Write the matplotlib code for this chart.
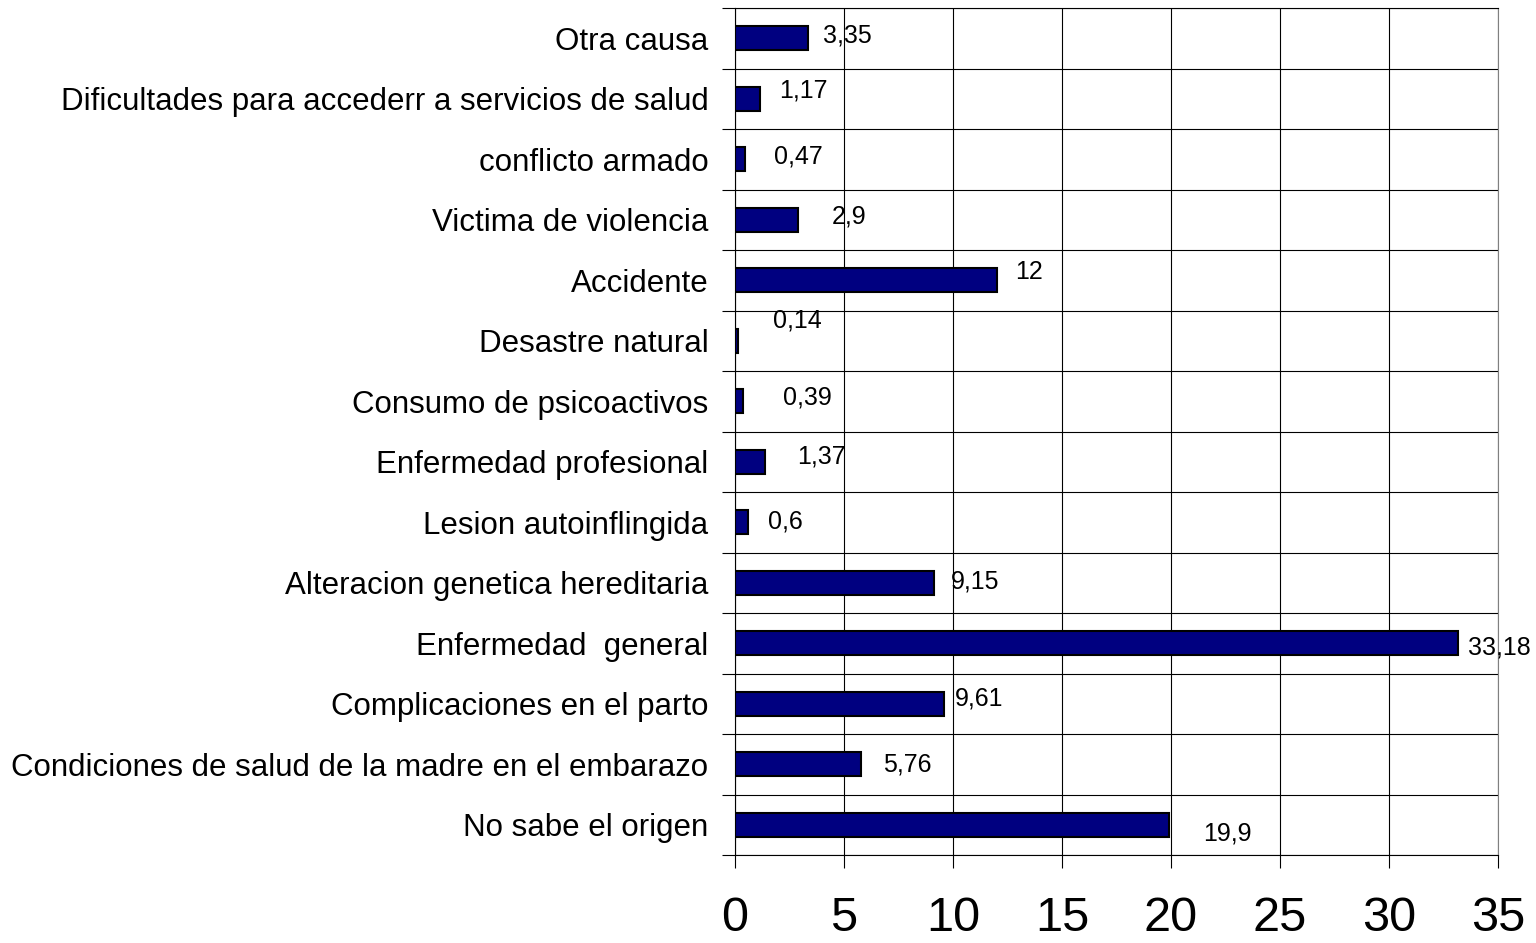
import matplotlib.pyplot as plt
from matplotlib.ticker import FixedLocator

# Data (bottom to top)
categories = [
    'No sabe el origen',
    'Condiciones de salud de la madre en el embarazo',
    'Complicaciones en el parto',
    'Enfermedad  general',
    'Alteracion genetica hereditaria',
    'Lesion autoinflingida',
    'Enfermedad profesional',
    'Consumo de psicoactivos',
    'Desastre natural',
    'Accidente',
    'Victima de violencia',
    'conflicto armado',
    'Dificultades para accederr a servicios de salud',
    'Otra causa',
]
values = [19.9, 5.76, 9.61, 33.18, 9.15, 0.6, 1.37, 0.39, 0.14, 12, 2.9, 0.47, 1.17, 3.35]
value_labels = ['19,9', '5,76', '9,61', '33,18', '9,15', '0,6', '1,37', '0,39', '0,14',
                '12', '2,9', '0,47', '1,17', '3,35']
xticks = [0, 5, 10, 15, 20, 25, 30, 35]

# label offsets from bar end, in pixels (dx, dy up)
label_dx = [34, 22, 10, 10, 16, 20, 32, 40, 35, 19, 34, 29, 19, 15]
label_dy = [-9, 0, 5, -4, 1, 1, 5, 4, 20, 8, 3, 3, 8, 3]

plt.rcParams['font.family'] = ['Liberation Sans', 'DejaVu Sans']

fig = plt.figure(figsize=(15.36, 9.43), dpi=100)
ax = fig.add_axes([0.4785, 0.0933, 0.4967, 0.8982])

y = list(range(len(categories)))
ax.barh(y, values, height=0.4, color='#000080', edgecolor='black', linewidth=1.5, zorder=3)

px = 72 / 100
for i, (v, lab) in enumerate(zip(values, value_labels)):
    ax.annotate(lab, (v, i), xytext=(label_dx[i] * px, label_dy[i] * px),
                textcoords='offset points', ha='left', va='center',
                fontsize=18, zorder=4, annotation_clip=False)

ax.set_xlim(0, 35)
ax.set_ylim(-0.5, len(categories) - 0.5)

ax.set_xticks(xticks)
ax.set_xticklabels([str(t) for t in xticks])
ax.tick_params(axis='x', which='major', length=9.4, width=0.8, direction='out',
               labelsize=35, pad=20)

ax.set_yticks(y)
ax.set_yticklabels(categories)
ax.yaxis.set_minor_locator(FixedLocator([k - 0.5 for k in range(len(categories) + 1)]))
ax.tick_params(axis='y', which='major', length=0, labelsize=22.5, pad=19)
ax.tick_params(axis='y', which='minor', length=9.4, width=0.8, direction='out')

ax.grid(True, axis='x', which='major', color='black', linewidth=0.8, zorder=0)
ax.grid(True, axis='y', which='minor', color='black', linewidth=0.8, zorder=0)
ax.set_axisbelow(True)

for s in ax.spines.values():
    s.set_color('black')
    s.set_linewidth(0.8)
ax.spines['right'].set_color('#808080')

fig.savefig('out.png', dpi=100)
